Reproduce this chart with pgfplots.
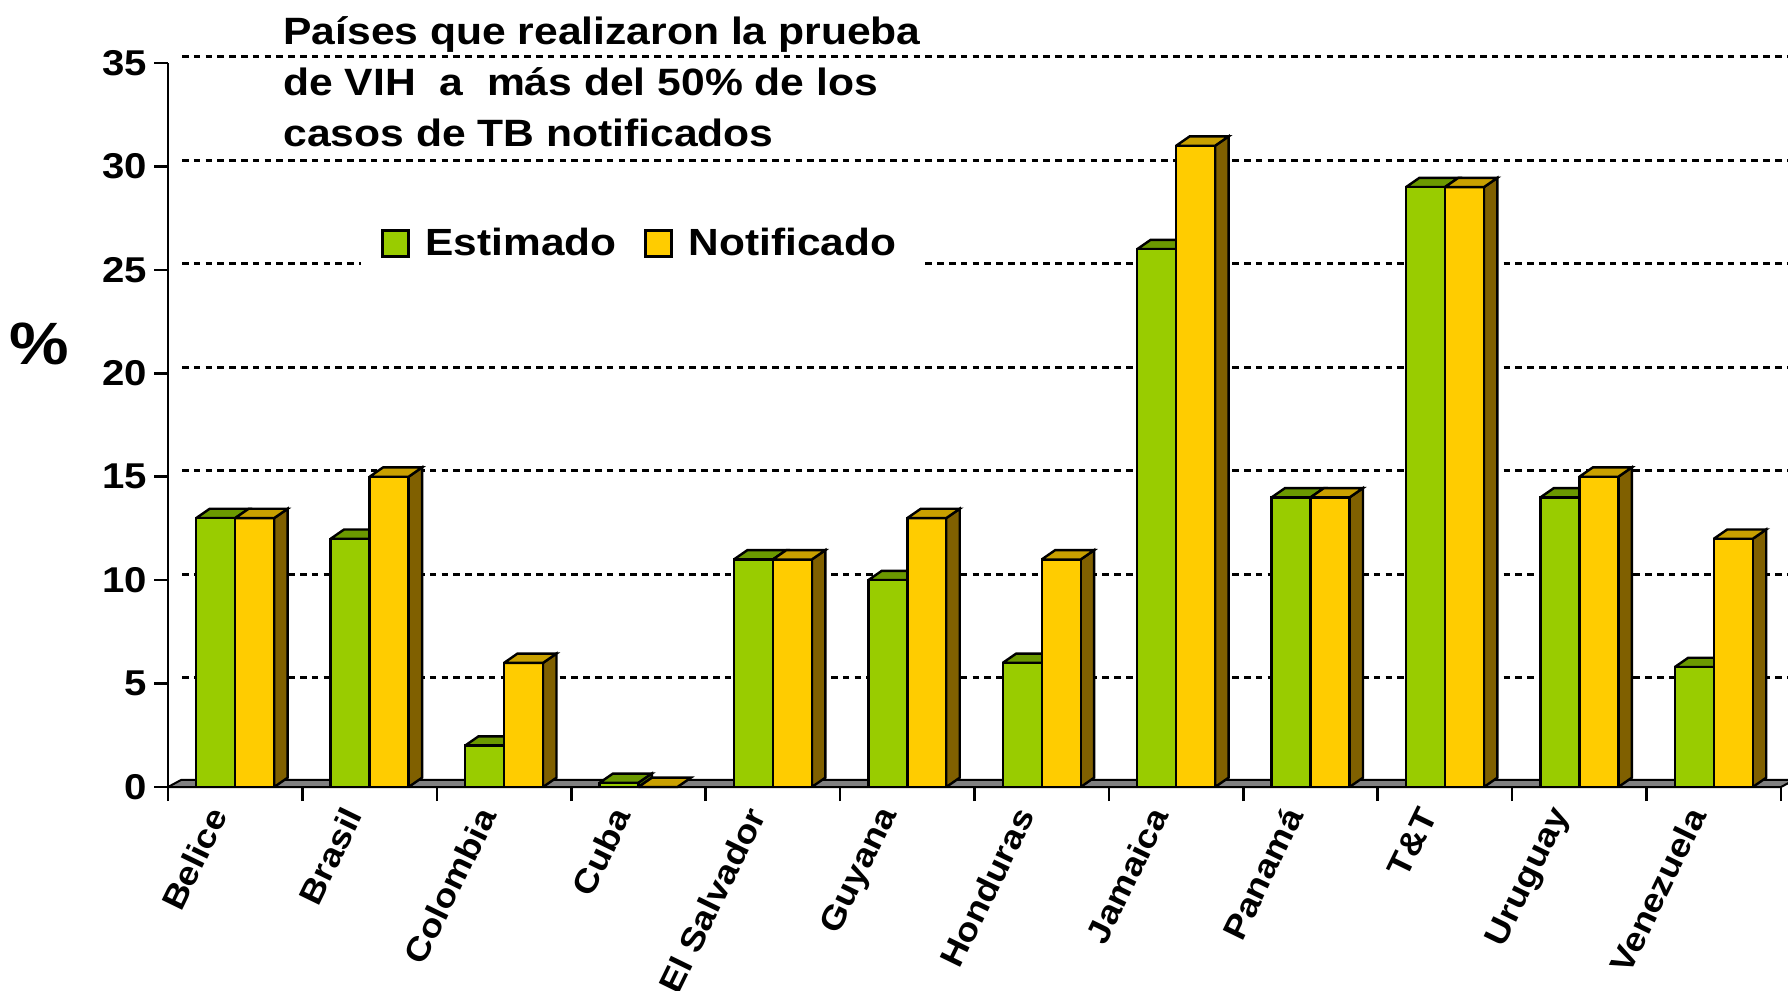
\documentclass[border=0pt]{standalone}
\usepackage{pgfplots}
\pgfplotsset{compat=1.18}
\usepackage{fontspec}
\setmainfont{Liberation Sans}[FakeStretch=1.12]
\definecolor{gfront}{HTML}{99CC00}
\definecolor{gtop}{HTML}{6B9900}
\definecolor{gside}{HTML}{4F7000}
\definecolor{yfront}{HTML}{FFCC00}
\definecolor{ytop}{HTML}{C9A000}
\definecolor{yside}{HTML}{806000}
\definecolor{floorc}{HTML}{808080}
\begin{document}
\begin{tikzpicture}
\begin{axis}[
  scale only axis,
  width=806.5bp, height=362bp,
  xmin=-0.5, xmax=11.5, ymin=0, ymax=35,
  clip=false,
  axis x line*=bottom, axis y line*=left,
  axis line style={-, line width=1.3bp},
  tick style={line width=1.3bp, black},
  tick align=outside,
  major tick length=7bp,
  ytick={0,5,...,35},
  xtick={-0.5,0.5,...,11.5},
  xticklabels={},
  extra x ticks={0,1,2,3,4,5,6,7,8,9,10,11},
  extra x tick labels={Belice,Brasil,Colombia,Cuba,El Salvador,Guyana,Honduras,Jamaica,Panamá,T\&T,Uruguay,Venezuela},
  /pgf/number format/assume math mode=true,
  tick label style={font=\fontsize{18}{20}\selectfont\bfseries},
  extra x tick style={major tick length=0pt, grid=none,
     tick label style={xshift=-7bp, yshift=-8.5bp, rotate=64, anchor=east, font=\fontsize{16.5}{18}\selectfont\bfseries}},
  ymajorgrids,
  grid style={black, line width=1.5bp, dash pattern=on 3.3bp off 2.6bp, xshift=7bp, yshift=3bp},
  legend style={at={(0.293,0.751)}, anchor=center, draw=none, fill=white,
     inner xsep=10bp, inner ysep=6bp,
     font=\fontsize{19}{21}\selectfont\bfseries,
     legend columns=2,
     /tikz/every even column/.append style={column sep=12bp}},
  legend image code/.code={\draw[#1, line width=1.3bp] (0bp,-6.5bp) rectangle (13bp,6.5bp); \path (19bp,0bp);},
]
% floor
\addplot[forget plot, fill=floorc, draw=black, line width=1bp] coordinates {(-0.5,0) (-0.4,0.35) (11.6,0.35) (11.5,0) (-0.5,0)};
% green tops
\addplot[forget plot, fill=gtop, draw=black, line width=1.2bp, unbounded coords=jump] coordinates {
(-0.29,13) (-0.19,13.45) (0.10,13.45) (0,13) (-0.29,13) (nan,nan)
(0.71,12) (0.81,12.45) (1.10,12.45) (1,12) (0.71,12) (nan,nan)
(1.71,2) (1.81,2.45) (2.10,2.45) (2,2) (1.71,2) (nan,nan)
(2.71,0.2) (2.81,0.65) (3.10,0.65) (3,0.2) (2.71,0.2) (nan,nan)
(3.71,11) (3.81,11.45) (4.10,11.45) (4,11) (3.71,11) (nan,nan)
(4.71,10) (4.81,10.45) (5.10,10.45) (5,10) (4.71,10) (nan,nan)
(5.71,6) (5.81,6.45) (6.10,6.45) (6,6) (5.71,6) (nan,nan)
(6.71,26) (6.81,26.45) (7.10,26.45) (7,26) (6.71,26) (nan,nan)
(7.71,14) (7.81,14.45) (8.10,14.45) (8,14) (7.71,14) (nan,nan)
(8.71,29) (8.81,29.45) (9.10,29.45) (9,29) (8.71,29) (nan,nan)
(9.71,14) (9.81,14.45) (10.10,14.45) (10,14) (9.71,14) (nan,nan)
(10.71,5.8) (10.81,6.25) (11.10,6.25) (11,5.8) (10.71,5.8)
};
% Cuba green side
\addplot[forget plot, fill=gside, draw=black, line width=1.2bp] coordinates {(3,0) (3.10,0.45) (3.10,0.65) (3,0.2) (3,0)};
% yellow sides
\addplot[forget plot, fill=yside, draw=black, line width=1.2bp, unbounded coords=jump] coordinates {
(0.29,0) (0.39,0.45) (0.39,13.45) (0.29,13) (0.29,0) (nan,nan)
(1.29,0) (1.39,0.45) (1.39,15.45) (1.29,15) (1.29,0) (nan,nan)
(2.29,0) (2.39,0.45) (2.39,6.45) (2.29,6) (2.29,0) (nan,nan)
(4.29,0) (4.39,0.45) (4.39,11.45) (4.29,11) (4.29,0) (nan,nan)
(5.29,0) (5.39,0.45) (5.39,13.45) (5.29,13) (5.29,0) (nan,nan)
(6.29,0) (6.39,0.45) (6.39,11.45) (6.29,11) (6.29,0) (nan,nan)
(7.29,0) (7.39,0.45) (7.39,31.45) (7.29,31) (7.29,0) (nan,nan)
(8.29,0) (8.39,0.45) (8.39,14.45) (8.29,14) (8.29,0) (nan,nan)
(9.29,0) (9.39,0.45) (9.39,29.45) (9.29,29) (9.29,0) (nan,nan)
(10.29,0) (10.39,0.45) (10.39,15.45) (10.29,15) (10.29,0) (nan,nan)
(11.29,0) (11.39,0.45) (11.39,12.45) (11.29,12) (11.29,0)
};
% fronts
\addplot[ybar, bar width=0.29, bar shift=-0.145, fill=gfront, draw=black, line width=1.2bp] coordinates {
(0,13) (1,12) (2,2) (3,0.2) (4,11) (5,10) (6,6) (7,26) (8,14) (9,29) (10,14) (11,5.8)};
\addplot[ybar, bar width=0.29, bar shift=0.145, fill=yfront, draw=black, line width=1.2bp] coordinates {
(0,13) (1,15) (2,6) (3,0) (4,11) (5,13) (6,11) (7,31) (8,14) (9,29) (10,15) (11,12)};
% yellow tops
\addplot[forget plot, fill=ytop, draw=black, line width=1.2bp, unbounded coords=jump] coordinates {
(0,13) (0.10,13.45) (0.39,13.45) (0.29,13) (0,13) (nan,nan)
(1,15) (1.10,15.45) (1.39,15.45) (1.29,15) (1,15) (nan,nan)
(2,6) (2.10,6.45) (2.39,6.45) (2.29,6) (2,6) (nan,nan)
(3,0) (3.10,0.45) (3.39,0.45) (3.29,0) (3,0) (nan,nan)
(4,11) (4.10,11.45) (4.39,11.45) (4.29,11) (4,11) (nan,nan)
(5,13) (5.10,13.45) (5.39,13.45) (5.29,13) (5,13) (nan,nan)
(6,11) (6.10,11.45) (6.39,11.45) (6.29,11) (6,11) (nan,nan)
(7,31) (7.10,31.45) (7.39,31.45) (7.29,31) (7,31) (nan,nan)
(8,14) (8.10,14.45) (8.39,14.45) (8.29,14) (8,14) (nan,nan)
(9,29) (9.10,29.45) (9.39,29.45) (9.29,29) (9,29) (nan,nan)
(10,15) (10.10,15.45) (10.39,15.45) (10.29,15) (10,15) (nan,nan)
(11,12) (11.10,12.45) (11.39,12.45) (11.29,12) (11,12)
};
\legend{Estimado,Notificado}
\end{axis}
\begin{scope}[every node/.style={anchor=base west, inner sep=0pt, font=\fontsize{19.1}{24}\selectfont\bfseries}]
\node at (57.5bp,371bp) {Países que realizaron la prueba};
\node at (57.5bp,345.5bp) {de VIH\ \ a\ \ más del 50\% de los};
\node at (57.5bp,320bp) {casos de TB notificados};
\end{scope}
\node[font=\fontsize{30}{32}\selectfont\bfseries, inner sep=0pt] at (-64.5bp,221.5bp) {\%};
\pgfresetboundingbox
\path[use as bounding box] (-84bp,-102bp) rectangle (810bp,393.5bp);
\end{tikzpicture}
\end{document}
